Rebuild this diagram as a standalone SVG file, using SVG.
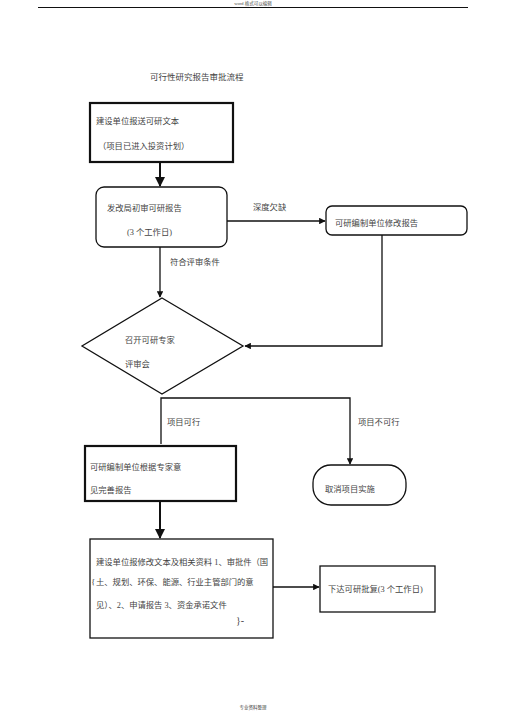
<svg xmlns="http://www.w3.org/2000/svg" width="505" height="714" viewBox="0 0 505 714">
<defs>
<style>
text{font-family:"Liberation Serif","Noto Sans CJK SC",serif;font-size:8.3px;fill:#444}
.n{fill:#fff;stroke:#111;stroke-width:1.3}
.thick{stroke-width:2.2}
.c{fill:none;stroke:#111;stroke-width:1.3}
.cb{fill:none;stroke:#111;stroke-width:2}
</style>
<marker id="a" viewBox="0 0 10 10" refX="9" refY="5" markerWidth="5" markerHeight="5" orient="auto"><path d="M0,0 L10,5 L0,10 z" fill="#111"/></marker>
</defs>
<rect width="505" height="714" fill="#fff"/>
<g id="header">
<text x="253" y="5" text-anchor="middle" style="font-size:4.5px">word 格式可以编辑</text>
<line x1="38" y1="7.5" x2="468" y2="7.5" stroke="#111" stroke-width="1"/>
</g>
<text x="150" y="80" style="font-size:8.5px">可行性研究报告审批流程</text>
<g id="connectors">
<line class="cb" x1="160" y1="162" x2="160" y2="186" marker-end="url(#a)"/>
<line class="c" x1="227" y1="221" x2="325" y2="221" marker-end="url(#a)"/>
<line class="c" x1="160" y1="247" x2="160" y2="297" marker-end="url(#a)"/>
<polyline class="c" points="382,235 382,346 245,346" marker-end="url(#a)"/>
<polyline class="c" points="161,444 161,398 350,398 350,464" marker-end="url(#a)"/>
<line class="cb" x1="160" y1="501" x2="160" y2="538" marker-end="url(#a)"/>
<line class="c" x1="273" y1="587" x2="319" y2="587" marker-end="url(#a)"/>
<text x="253" y="210">深度欠缺</text>
<text x="170" y="265">符合评审条件</text>
<text x="167" y="425">项目可行</text>
<text x="358" y="425">项目不可行</text>
</g>
<g id="n1">
<rect class="n thick" x="90" y="103" width="143" height="59"/>
<text x="96" y="124">建设单位报送可研文本</text>
<text x="98" y="149">（项目已进入投资计划）</text>
</g>
<g id="n2">
<rect class="n" x="96" y="187" width="131" height="60" rx="8"/>
<text x="107" y="211">发改局初审可研报告</text>
<text x="127" y="235">(3 个工作日)</text>
</g>
<g id="n3">
<rect class="n" x="326" y="206" width="141" height="29" rx="6"/>
<text x="335" y="226">可研编制单位修改报告</text>
</g>
<g id="n4">
<polygon class="n" points="162,298 243,346 162,394 82,346"/>
<text x="125" y="343">召开可研专家</text>
<text x="125" y="367">评审会</text>
</g>
<g id="n5">
<rect class="n thick" x="85" y="446" width="151" height="55"/>
<text x="90" y="470">可研编制单位根据专家意</text>
<text x="90" y="493">见完善报告</text>
</g>
<g id="n6">
<rect class="n" x="313" y="465" width="93" height="40" rx="18"/>
<text x="325" y="492">取消项目实施</text>
</g>
<g id="n7">
<rect class="n" x="90" y="539" width="183" height="99"/>
<text x="96" y="565">建设单位报修改文本及相关资料 1、审批件（国</text>
<text x="91" y="585" style="font-size:9px">{</text>
<text x="96" y="585">土、规划、环保、能源、行业主管部门的意</text>
<text x="96" y="608">见）、2、申请报告 3、资金承诺文件</text>
<text x="236" y="624" style="font-size:10px">}-</text>
</g>
<g id="n8">
<rect class="n" x="320" y="566" width="115" height="46"/>
<text x="328" y="592">下达可研批复(3 个工作日)</text>
</g>
<text x="253" y="709" text-anchor="middle" style="font-size:4.5px">专业资料整理</text>
</svg>
